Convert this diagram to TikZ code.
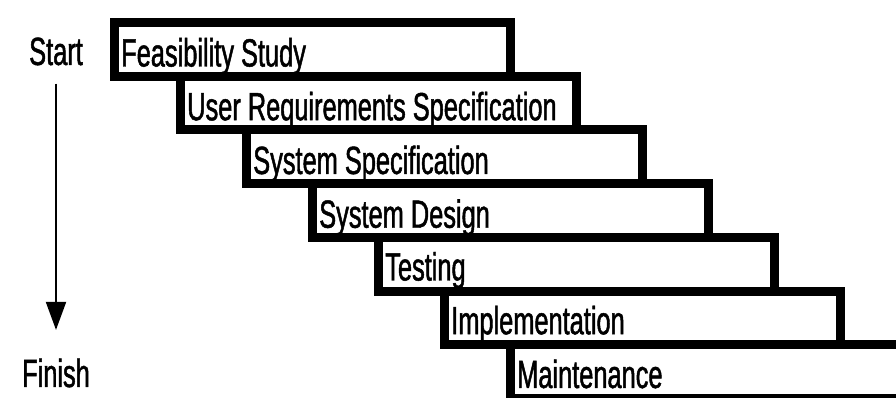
\documentclass[tikz,border=0pt]{standalone}
\usepackage{fontspec}
\setmainfont{Liberation Sans}[FakeStretch=0.645,FakeBold=1.2]
\usetikzlibrary{arrows.meta}
\begin{document}
\begin{tikzpicture}[x=0.75pt,y=0.75pt,yscale=-1,xscale=1,
  phasebox/.style={line width=6.75pt,line join=miter},
  phasetext/.style={anchor=base west,inner sep=0.75pt,font=\fontsize{29.5}{30}\selectfont},
  endtext/.style={anchor=base,inner sep=0.75pt,font=\fontsize{29.5}{30}\selectfont}]
%set diagram size to 896 x 398
\path[use as bounding box] (0,0) rectangle (896,398);

%Shape: Rectangle [id:phase1]
\draw [phasebox] (114,22.5) rectangle (510,76.25);
%Shape: Rectangle [id:phase2]
\draw [phasebox] (180,76.25) rectangle (576,130);
%Shape: Rectangle [id:phase3]
\draw [phasebox] (246,130) rectangle (642,183.75);
%Shape: Rectangle [id:phase4]
\draw [phasebox] (312,183.75) rectangle (708,237.5);
%Shape: Rectangle [id:phase5]
\draw [phasebox] (378,237.5) rectangle (774,291.25);
%Shape: Rectangle [id:phase6]
\draw [phasebox] (444,291.25) rectangle (840,345);
%Shape: Rectangle [id:phase7]
\draw [phasebox] (510,345) rectangle (906,398.75);

% Text Node
\node [phasetext] (feasibility) at (120,66.5) {Feasibility Study};
% Text Node
\node [phasetext] (userreq) at (186,120.25) {User Requirements Specification};
% Text Node
\node [phasetext] (sysspec) at (252,174) {System Specification};
% Text Node
\node [phasetext] (sysdesign) at (318,227.75) {System Design};
% Text Node
\node [phasetext] (testing) at (384,280.5) {Testing};
% Text Node
\node [phasetext] (implementation) at (450,334.25) {Implementation};
% Text Node
\node [phasetext] (maintenance) at (516,388) {Maintenance};

% Text Node
\node [endtext] (start) at (56,65) {Start};
% Text Node
\node [endtext] (finish) at (56,387) {Finish};

%Straight Lines [id:timeline]
\draw [line width=1.5pt,-{Triangle[length=21pt,width=15pt]},shorten <=12.75pt,shorten >=20.5pt] (start) -- (finish);
\end{tikzpicture}
\end{document}
